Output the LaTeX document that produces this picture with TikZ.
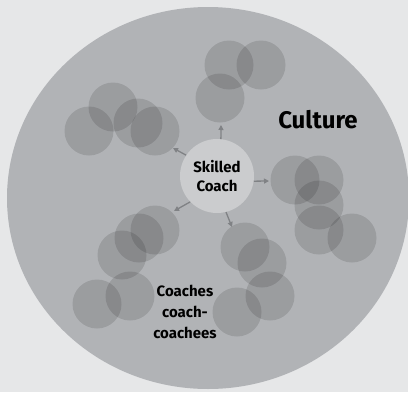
\documentclass[tikz,border=0pt]{standalone}
\usepackage{fontspec}
\setmainfont{Fira Sans}
\usetikzlibrary{arrows.meta}
\definecolor{bgc}{HTML}{E6E7E8}
\definecolor{culture}{HTML}{B1B3B6}
\definecolor{coachc}{HTML}{CBCCCE}
\definecolor{arrowc}{HTML}{808285}
\tikzset{
  member/.style={circle, fill=black, fill opacity=0.12, minimum size=49pt, inner sep=0pt},
  link/.style={draw=arrowc, line width=1.3pt, -{Triangle[length=5pt,width=5pt]}},
  lbl/.style={font=\bfseries\fontsize{15}{18.5}\selectfont, align=center, text=black}
}
\begin{document}
\begin{tikzpicture}[x=1pt,y=-1pt]
\useasboundingbox (0,0) rectangle (408,392);
\fill[bgc] (0,0) rectangle (408,392);
\fill[culture] (208,198) ellipse [x radius=201, y radius=191];
% top group
\node[member] (t1) at (229,65) {};
\node[member] (t2) at (261,65) {};
\node[member] (t3) at (220,98) {};
% upper-left group
\node[member] (u1) at (113,107) {};
\node[member] (u2) at (89,131) {};
\node[member] (u3) at (138,123) {};
\node[member] (u4) at (155,131) {};
% right group
\node[member] (r1) at (295,180) {};
\node[member] (r2) at (319,180) {};
\node[member] (r3) at (319,205) {};
\node[member] (r4) at (319,230) {};
\node[member] (r5) at (352,238) {};
% lower-left group
\node[member] (l1) at (155,230) {};
\node[member] (l2) at (139,238) {};
\node[member] (l3) at (122,255) {};
\node[member] (l4) at (130,296) {};
\node[member] (l5) at (97,304) {};
% lower-right group
\node[member] (d1) at (245,247) {};
\node[member] (d2) at (262,263) {};
\node[member] (d3) at (270,296) {};
\node[member] (d4) at (237,312) {};
% coach
\node[circle, fill=coachc, minimum size=74pt, inner sep=0pt, lbl] (coach) at (217,176) {Skilled\\Coach};
\coordinate (e1) at (221,125);
\coordinate (e2) at (173,148);
\coordinate (e3) at (269,181);
\coordinate (e4) at (174,211);
\coordinate (e5) at (232,227);
\draw[link] (coach.84) -- (e1);
\draw[link] (coach.146) -- (e2);
\draw[link] (coach.-8) -- (e3);
\draw[link] (coach.224) -- (e4);
\draw[link] (coach.284) -- (e5);
\node[font=\bfseries\fontsize{24}{28}\selectfont] (culturelbl) at (318,120) {Culture};
\node[lbl, font=\bfseries\fontsize{15}{20.7}\selectfont] (coachees) at (185,312) {Coaches\\coach-\\coachees};
\end{tikzpicture}
\end{document}
